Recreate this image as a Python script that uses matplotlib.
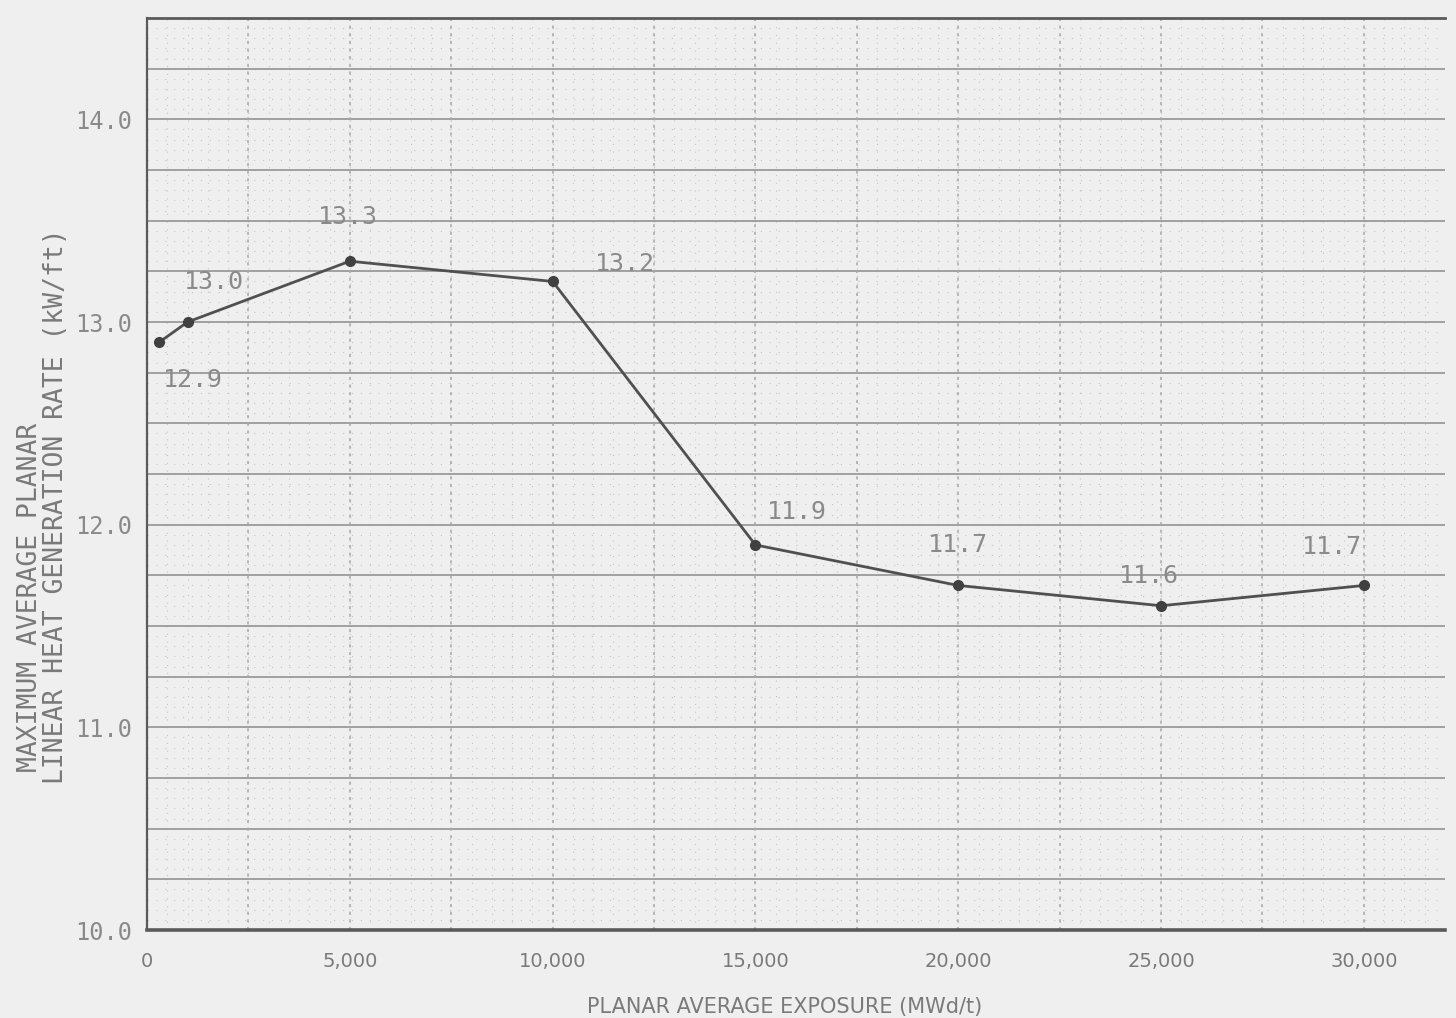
import matplotlib
matplotlib.use("Agg")
import matplotlib.pyplot as plt
import numpy as np

# Data
exposure = [300, 1000, 5000, 10000, 15000, 20000, 25000, 30000]
maplhgr = [12.9, 13.0, 13.3, 13.2, 11.9, 11.7, 11.6, 11.7]
point_labels = ["12.9", "13.0", "13.3", "13.2", "11.9", "11.7", "11.6", "11.7"]
label_offsets_px = [(34, -38), (26, 40), (-2, 44), (72, 17), (42, 33), (0, 40), (-12, 30), (-32, 38)]

x_ticks = [0, 5000, 10000, 15000, 20000, 25000, 30000]
x_tick_labels = ["0", "5,000", "10,000", "15,000", "20,000", "25,000", "30,000"]
y_ticks = [10.0, 11.0, 12.0, 13.0, 14.0]
y_tick_labels = ["10.0", "11.0", "12.0", "13.0", "14.0"]

bg = "#efefef"
fig = plt.figure(figsize=(14.56, 10.18), dpi=100, facecolor=bg)
ax = fig.add_axes([147 / 1456, 88 / 1018, 1298 / 1456, 912 / 1018])
ax.set_facecolor(bg)
ax.set_xlim(0, 32000)
ax.set_ylim(10.0, 14.5)

# grid
for yv in np.arange(10.25, 14.5, 0.25):
    ax.axhline(yv, color="#9a9a9a", lw=1.3, zorder=1)
for yv in np.arange(10.05, 14.5, 0.05):
    ax.axhline(yv, color="#c4c4c4", lw=0.8, ls=(0, (1, 7)), zorder=0.5)
for xv in np.arange(2500, 32000, 2500):
    ax.axvline(xv, color="#a8a8a8", lw=1.1, ls=(0, (2, 3)), zorder=1)
for xv in np.arange(500, 32000, 500):
    ax.axvline(xv, color="#c4c4c4", lw=0.8, ls=(0, (1, 6)), zorder=0.5)

ax.plot(exposure, maplhgr, color="#505050", lw=2.0, marker="o", ms=7,
        mfc="#404040", mec="#404040", zorder=3)

mono = ["DejaVu Sans Mono"]
for xv, yv, lab, (dx, dy) in zip(exposure, maplhgr, point_labels, label_offsets_px):
    ax.annotate(lab, (xv, yv), xytext=(dx, dy), textcoords="offset pixels",
                ha="center", va="center", fontsize=18, color="#8a8a8a",
                family=mono, zorder=4)

for s in ["top", "left", "bottom"]:
    ax.spines[s].set_color("#5a5a5a")
ax.spines["top"].set_linewidth(2.0)
ax.spines["left"].set_linewidth(1.6)
ax.spines["bottom"].set_linewidth(2.6)
ax.spines["right"].set_visible(False)

ax.set_xticks(x_ticks)
ax.set_xticklabels(x_tick_labels, fontsize=14, color="#7a7a7a", family=["DejaVu Sans"])
ax.set_yticks(y_ticks)
ax.set_yticklabels(y_tick_labels, fontsize=17, color="#8a8a8a", family=mono)
ax.tick_params(axis="both", length=0)
ax.tick_params(axis="y", pad=11)
ax.tick_params(axis="x", pad=16)

fig.text(30 / 1456, 1 - 772 / 1018, "MAXIMUM AVERAGE PLANAR", rotation=90,
         ha="center", va="bottom", fontsize=19, color="#7a7a7a", family=mono)
fig.text(56 / 1456, 1 - 784 / 1018, "LINEAR HEAT GENERATION RATE (kW/ft)", rotation=90,
         ha="center", va="bottom", fontsize=19, color="#7a7a7a", family=mono)
fig.text(785 / 1456, 1 - 1007 / 1018, "PLANAR AVERAGE EXPOSURE (MWd/t)",
         ha="center", va="center", fontsize=15, color="#7a7a7a", family=["DejaVu Sans"])

fig.savefig("out.png", dpi=100, facecolor=bg)
